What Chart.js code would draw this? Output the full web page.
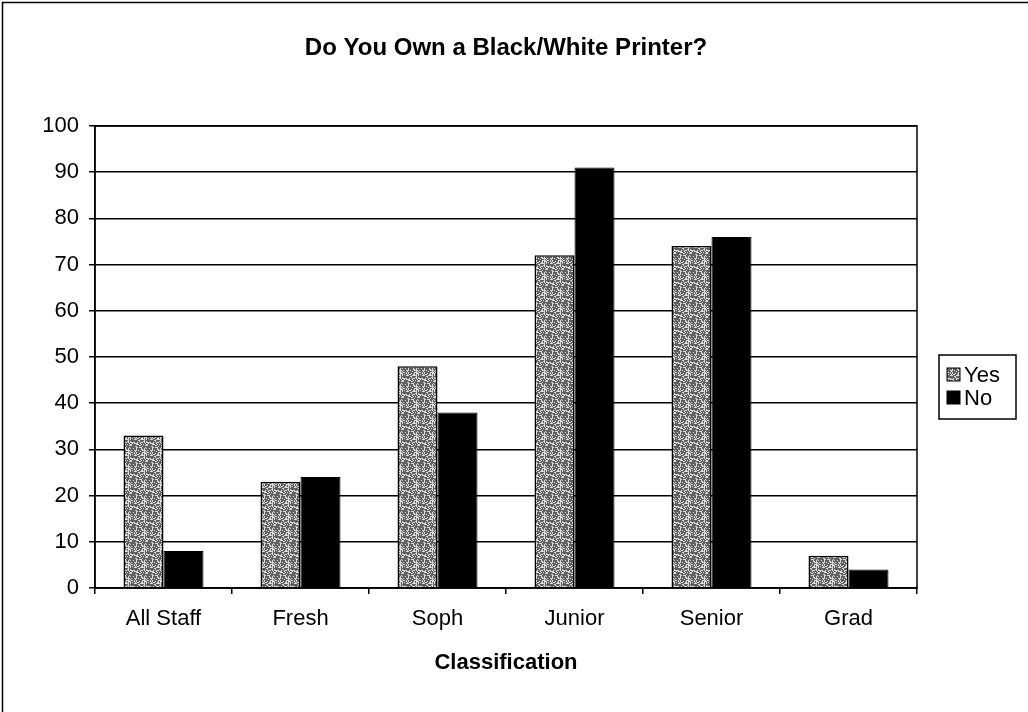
<!DOCTYPE html>
<html>
<head>
<meta charset="utf-8">
<script src="https://cdn.jsdelivr.net/npm/chart.js@4.4.1/dist/chart.umd.min.js"></script>
<style>
  html, body { margin: 0; padding: 0; background: #ffffff; }
  #wrap { position: relative; width: 1028px; height: 712px; }
</style>
</head>
<body>
<div id="wrap"><canvas id="c" width="1028" height="712"></canvas></div>
<script>
// Survey results by student classification
const categories = ['All Staff', 'Fresh', 'Soph', 'Junior', 'Senior', 'Grad'];
const yesValues = [33, 23, 48, 72, 74, 7];
const noValues = [8, 24, 38, 91, 76, 4];
const seriesNames = ['Yes', 'No'];
const yTickValues = [0, 10, 20, 30, 40, 50, 60, 70, 80, 90, 100];
const chartTitle = 'Do You Own a Black/White Printer?';
const xAxisTitle = 'Classification';

const FONT = "'Liberation Sans', Arial, Helvetica, sans-serif";

// Grey stipple fill for the "Yes" bars (fixed 16x16 tile, hashed dot layout)
function makeStipple() {
  const n = 16;
  const t = document.createElement('canvas');
  t.width = n; t.height = n;
  const g = t.getContext('2d');
  g.fillStyle = '#5e5e5e';
  g.fillRect(0, 0, n, n);
  g.fillStyle = '#dadada';
  for (let y = 0; y < n; y++) {
    for (let x = 0; x < n; x++) {
      const h = ((x * 2654435761) ^ (y * 40503 + x * y * 97)) >>> 0;
      if ((h % 100) < 32) g.fillRect(x, y, 1, 1);
    }
  }
  return g.createPattern(t, 'repeat');
}

const ctx = document.getElementById('c').getContext('2d');
const stipple = makeStipple();

// Page frame, plot border and the boxed legend
const decorations = {
  id: 'decorations',
  beforeDraw(chart) {
    const c = chart.ctx;
    c.save();
    c.fillStyle = '#ffffff';
    c.fillRect(0, 0, chart.width, chart.height);
    c.restore();
  },
  afterDraw(chart) {
    const c = chart.ctx;
    const a = chart.chartArea;
    c.save();
    c.strokeStyle = '#000000';
    // outer frame (top and left edges)
    c.lineWidth = 1.5;
    c.beginPath();
    c.moveTo(2.5, chart.height);
    c.lineTo(2.5, 2.5);
    c.lineTo(chart.width, 2.5);
    c.stroke();
    // plot area border
    c.strokeRect(a.left, a.top, a.right - a.left, a.bottom - a.top);

    // legend
    const lx = 939, ly = 355, lw = 77, lh = 64;
    c.fillStyle = '#ffffff';
    c.fillRect(lx, ly, lw, lh);
    c.lineWidth = 1.5;
    c.strokeRect(lx, ly, lw, lh);
    const rows = [ly + 20, ly + 43];
    chart.data.datasets.forEach((ds, i) => {
      const cy = rows[i];
      c.fillStyle = ds.backgroundColor;
      c.fillRect(lx + 8, cy - 7, 13, 13);
      c.lineWidth = 1;
      c.strokeStyle = '#000000';
      c.strokeRect(lx + 8, cy - 7, 13, 13);
      c.fillStyle = '#000000';
      c.font = '22px ' + FONT;
      c.textBaseline = 'middle';
      c.textAlign = 'left';
      c.fillText(ds.label, lx + 25, cy + 1);
    });
    c.restore();
  }
};

new Chart(ctx, {
  type: 'bar',
  data: {
    labels: categories,
    datasets: [
      {
        label: seriesNames[0],
        data: yesValues,
        backgroundColor: stipple,
        borderColor: '#000000',
        borderWidth: 1.5,
        categoryPercentage: 0.584,
        barPercentage: 1.0
      },
      {
        label: seriesNames[1],
        data: noValues,
        backgroundColor: '#000000',
        borderColor: '#000000',
        borderWidth: 1,
        categoryPercentage: 0.584,
        barPercentage: 1.0
      }
    ]
  },
  options: {
    responsive: false,
    animation: false,
    devicePixelRatio: 1,
    layout: { padding: { left: 0, right: 111, top: 0, bottom: 0 } },
    plugins: {
      legend: { display: false },
      tooltip: { enabled: false },
      title: {
        display: true,
        text: chartTitle,
        fullSize: false,
        color: '#000000',
        font: { family: FONT, size: 24, weight: 'bold', lineHeight: 1.2 },
        padding: { top: 34, bottom: 63.2 }
      }
    },
    scales: {
      x: {
        afterFit(scale) { scale.height = 124; },
        grid: {
          display: true,
          drawOnChartArea: false,
          drawTicks: true,
          tickLength: 6,
          color: '#000000',
          lineWidth: 1.5,
          offset: true
        },
        border: { display: true, color: '#000000', width: 1.5 },
        ticks: {
          color: '#000000',
          font: { family: FONT, size: 22 },
          padding: 12,
          maxRotation: 0
        },
        title: {
          display: true,
          text: xAxisTitle,
          color: '#000000',
          font: { family: FONT, size: 22, weight: 'bold' },
          padding: { top: 0, bottom: 36 }
        }
      },
      y: {
        min: yTickValues[0],
        max: yTickValues[yTickValues.length - 1],
        afterFit(scale) { scale.width = 95; },
        afterBuildTicks(scale) { scale.ticks = yTickValues.map(v => ({ value: v })); },
        grid: {
          color: '#000000',
          lineWidth: 1.5,
          tickLength: 6
        },
        border: { display: true, color: '#000000', width: 1.5 },
        ticks: {
          color: '#000000',
          font: { family: FONT, size: 22 },
          padding: 10
        }
      }
    }
  },
  plugins: [decorations]
});
</script>
</body>
</html>
